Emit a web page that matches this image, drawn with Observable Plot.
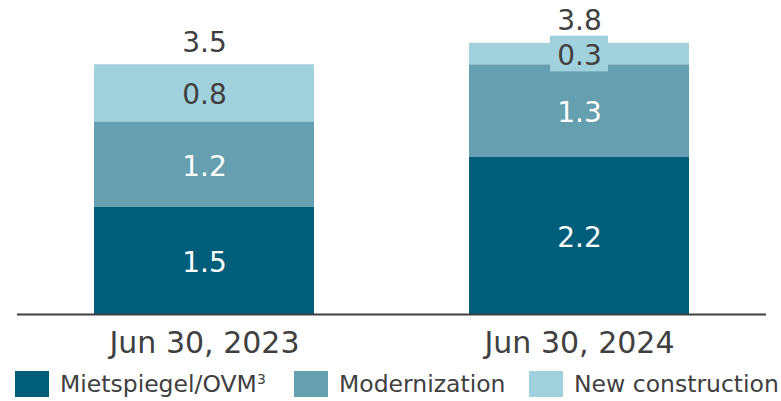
<!DOCTYPE html>
<html>
<head>
<meta charset="utf-8">
<script src="https://cdn.jsdelivr.net/npm/d3@7"></script>
<script src="https://cdn.jsdelivr.net/npm/@observablehq/plot@0.6"></script>
<style>
  html, body { margin: 0; padding: 0; background: #fff; }
  body { width: 781px; height: 401px; overflow: hidden; font-family: "DejaVu Sans", Verdana, sans-serif; }
  #chart svg { display: block; }
  .legend { position: relative; height: 41px; }
  .legend .item { position: absolute; top: 11px; height: 26px; display: flex; align-items: center; }
  .legend .sw { width: 34px; height: 26px; margin-right: 11px; }
  .legend .lbl { font-size: 23.5px; color: #404040; white-space: nowrap; line-height: 26px; }
  .legend sup { font-size: 14px; vertical-align: 8px; line-height: 0; }
</style>
</head>
<body>
<div id="chart"></div>
<div class="legend" id="legend"></div>
<script>
const categories = ["Jun 30, 2023", "Jun 30, 2024"];
const seriesNames = ["Mietspiegel/OVM", "Modernization", "New construction"];
const seriesColors = ["#005e7a", "#659fb0", "#a2d1de"];
const labelColors = ["#ffffff", "#ffffff", "#404040"];
const mietspiegel = [1.5, 2.2];
const modernization = [1.2, 1.3];
const newConstruction = [0.8, 0.3];
const totals = [3.5, 3.8];

const seriesValues = [mietspiegel, modernization, newConstruction];
const rows = [];
categories.forEach((c, ci) => {
  let base = 0;
  seriesNames.forEach((s, si) => {
    const v = seriesValues[si][ci];
    rows.push({category: c, series: s, value: v, mid: base + v / 2, labelColor: labelColors[si]});
    base += v;
  });
});
const totalRows = categories.map((c, i) => ({category: c, total: totals[i]}));
// small segments get a label box in their own colour
const boxedRows = rows.filter(d => d.series === "New construction" && d.value < 0.5);

const font = "DejaVu Sans, Verdana, sans-serif";

const plot = Plot.plot({
  width: 781,
  height: 360,
  marginLeft: 17,
  marginRight: 15,
  marginTop: 0,
  marginBottom: 46,
  style: {fontFamily: font, background: "#fff"},
  x: {domain: categories, paddingInner: 0.413, paddingOuter: 0.205, label: null},
  y: {domain: [0, 4.4], axis: null},
  color: {domain: seriesNames, range: seriesColors},
  marks: [
    Plot.barY(rows, {x: "category", y: "value", fill: "series", z: "series", order: seriesNames}),
    Plot.rect(boxedRows, {
      x: "category", y1: d => d.mid - 0.25, y2: d => d.mid + 0.25,
      fill: "series", insetLeft: 81, insetRight: 81
    }),
    Plot.text(rows, {
      x: "category", y: "mid",
      text: d => d.value.toFixed(1), fill: "labelColor", fontSize: 28, dy: 2
    }),
    Plot.text(totalRows, {x: "category", y: "total", text: d => d.total.toFixed(1), fill: "#404040", fontSize: 28, dy: -22}),
    Plot.ruleY([0], {stroke: "#404040", strokeWidth: 2}),
    Plot.axisX({tickSize: 0, tickPadding: 17, fontSize: 30, color: "#404040", label: null})
  ]
});
document.getElementById("chart").appendChild(plot);

const legendPos = [{sw: 15, lbl: 59}, {sw: 294, lbl: 339}, {sw: 529, lbl: 574}];
const legend = document.getElementById("legend");
seriesNames.forEach((s, i) => {
  const item = document.createElement("div");
  item.className = "item";
  item.style.left = legendPos[i].sw + "px";
  const sw = document.createElement("div");
  sw.className = "sw";
  sw.style.background = seriesColors[i];
  const lbl = document.createElement("span");
  lbl.className = "lbl";
  lbl.textContent = s;
  if (i === 0) {
    const sup = document.createElement("sup");
    sup.textContent = "3";
    lbl.appendChild(sup);
  }
  item.appendChild(sw);
  item.appendChild(lbl);
  legend.appendChild(item);
});
</script>
</body>
</html>
